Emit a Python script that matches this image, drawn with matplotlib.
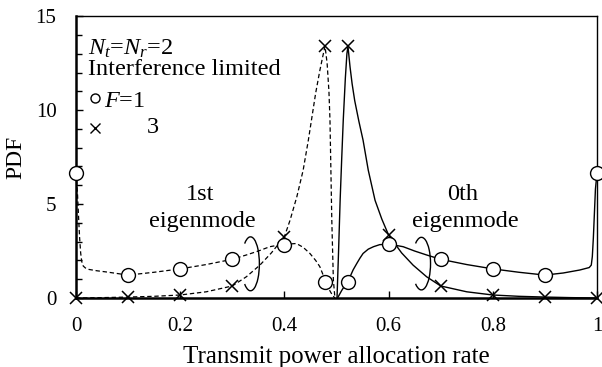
import matplotlib

matplotlib.use("Agg")
import matplotlib.pyplot as plt
from matplotlib.patches import Arc
from matplotlib.ticker import FixedLocator, MultipleLocator

plt.rcParams["font.family"] = ["Liberation Serif", "DejaVu Serif"]
plt.rcParams["mathtext.fontset"] = "custom"
plt.rcParams["mathtext.rm"] = "Liberation Serif"
plt.rcParams["mathtext.it"] = "Liberation Serif:italic"

# 1st eigenmode (dashed), F=1
f1_1st_x = [0, 0.003, 0.005, 0.007, 0.009, 0.011, 0.014, 0.018, 0.025, 0.04, 0.06, 0.08,
            0.1, 0.15, 0.2, 0.25, 0.3, 0.327, 0.35, 0.372, 0.386, 0.4, 0.412, 0.423, 0.436,
            0.449, 0.46, 0.468, 0.474, 0.478, 0.484, 0.489, 0.493, 0.497]
f1_1st_y = [6.65, 5.5, 4.3, 3.2, 2.4, 1.95, 1.7, 1.6, 1.52, 1.45, 1.38, 1.3,
            1.22, 1.37, 1.55, 1.78, 2.06, 2.29, 2.5, 2.73, 2.8, 2.82, 2.88, 2.9, 2.7,
            2.37, 2.0, 1.67, 1.25, 0.87, 0.55, 0.3, 0.12, 0.0]
# 1st eigenmode (dashed), F=3
f3_1st_x = [0, 0.05, 0.1, 0.15, 0.2, 0.25, 0.3, 0.327, 0.353, 0.375, 0.4, 0.411, 0.424,
            0.436, 0.446, 0.452, 0.46, 0.468, 0.474, 0.478, 0.482, 0.4855, 0.4875, 0.491,
            0.494, 0.497]
f3_1st_y = [0, 0.02, 0.05, 0.09, 0.16, 0.33, 0.64, 1.13, 1.75, 2.4, 3.26, 4.15, 5.4,
            6.8, 8.4, 9.47, 10.9, 12.1, 12.9, 13.4, 12.5, 11.0, 9.47, 4.15,
            0.96, 0.0]
# 0th eigenmode (solid), F=1
f1_0th_x = [0.502, 0.506, 0.51, 0.515, 0.52, 0.526, 0.532, 0.539, 0.545, 0.551, 0.561,
            0.571, 0.583, 0.6, 0.614, 0.628, 0.65, 0.673, 0.7, 0.75, 0.8, 0.85, 0.9,
            0.935, 0.967, 0.985, 0.989, 0.991, 0.993, 0.995, 0.997, 1.0]
f1_0th_y = [0.0, 0.2, 0.4, 0.62, 0.87, 1.13, 1.5, 1.84, 2.12, 2.37, 2.6,
            2.73, 2.84, 2.86, 2.8, 2.73, 2.5, 2.29, 2.06, 1.78, 1.55, 1.37, 1.22,
            1.33, 1.49, 1.62, 1.75, 2.2, 3.2, 4.5, 5.8, 6.65]
# 0th eigenmode (solid), F=3
f3_0th_x = [0.501, 0.504, 0.507, 0.510, 0.513, 0.517, 0.52, 0.522, 0.526, 0.53, 0.535,
            0.543, 0.551, 0.561, 0.574, 0.587, 0.6, 0.625, 0.647, 0.673, 0.7, 0.75,
            0.8, 0.85, 0.9, 0.95, 1.0]
f3_0th_y = [0.0, 2.5, 5.2, 7.4, 9.47, 11.7, 13.0, 13.4, 12.3, 11.4, 10.5,
            9.4, 8.4, 6.8, 5.2, 4.2, 3.35, 2.4, 1.75, 1.13, 0.64, 0.33,
            0.16, 0.09, 0.05, 0.02, 0.0]

# marker positions
f1_mark_x = [0, 0.1, 0.2, 0.3, 0.4, 0.478, 0.522, 0.6, 0.7, 0.8, 0.9, 1.0]
f1_mark_y = [6.65, 1.22, 1.55, 2.06, 2.82, 0.87, 0.87, 2.86, 2.06, 1.55, 1.22, 6.65]
f3_mark_x = [0, 0.1, 0.2, 0.3, 0.4, 0.478, 0.522, 0.6, 0.7, 0.8, 0.9, 1.0]
f3_mark_y = [0, 0.05, 0.16, 0.64, 3.26, 13.4, 13.4, 3.35, 0.64, 0.16, 0.05, 0]

x_ticks = [0, 0.2, 0.4, 0.6, 0.8, 1.0]
x_tick_labels = ["0", "0.2", "0.4", "0.6", "0.8", "1"]
y_ticks = [0, 5, 10, 15]

fig = plt.figure(figsize=(6.02, 3.67), dpi=100)
ax = fig.add_axes([0.1262, 0.188, 0.8655, 0.768])

dash = (0, (3.5, 2.2))
ax.plot(f1_1st_x, f1_1st_y, color="black", lw=0.9, ls=dash, clip_on=False)
ax.plot(f3_1st_x, f3_1st_y, color="black", lw=0.9, ls=dash, clip_on=False)
ax.plot(f1_0th_x, f1_0th_y, color="black", lw=1.0, clip_on=False)
ax.plot(f3_0th_x, f3_0th_y, color="black", lw=1.0, clip_on=False)

ax.plot(f3_mark_x, f3_mark_y, ls="none", marker="x", ms=9, mew=1.1, color="black",
        clip_on=False, zorder=4)
ax.plot(f1_mark_x, f1_mark_y, ls="none", marker="o", ms=10, mew=1.0, mfc="white",
        mec="black", clip_on=False, zorder=5)

# loops around the curve pairs, open on the left
# (Arc angles are geometric in data units, so they sit just past +-90 deg here)
ax.add_patch(Arc((0.335, 1.82), 0.034, 2.87, theta1=-90.6, theta2=90.6, color="black", lw=1.0))
ax.add_patch(Arc((0.663, 1.83), 0.035, 2.8, theta1=-90.6, theta2=90.6, color="black", lw=1.0))

ax.text(0.238, 5.21, "1st", ha="center", va="baseline", fontsize=17.5)
ax.text(0.243, 3.79, "eigenmode", ha="center", va="baseline", fontsize=17.5)
ax.text(0.743, 5.21, "0th", ha="center", va="baseline", fontsize=17.5)
ax.text(0.747, 3.79, "eigenmode", ha="center", va="baseline", fontsize=17.5)

# legend block
ax.text(0.023, 12.93, "$N_t$=$N_r$=2", va="baseline", fontsize=17.5)
ax.text(0.023, 11.86, "Interference limited", va="baseline", fontsize=17.5)
ax.plot([0.036], [10.64], marker="o", ms=6.5, mew=1.0, mfc="white", mec="black", ls="none")
ax.text(0.054, 10.16, "$F$=1", va="baseline", fontsize=17.5)
ax.plot([0.036], [9.04], marker="x", ms=6.5, mew=1.0, color="black", ls="none")
ax.text(0.136, 8.78, "3", va="baseline", fontsize=17.5)

ax.set_xlim(0, 1)
ax.set_ylim(0, 15)
ax.xaxis.set_major_locator(FixedLocator(x_ticks))
ax.set_xticklabels(x_tick_labels)
ax.yaxis.set_major_locator(FixedLocator(y_ticks))
ax.yaxis.set_minor_locator(MultipleLocator(1))
ax.tick_params(axis="both", which="major", direction="in", length=5, width=1,
               labelsize=15, pad=14)
ax.tick_params(axis="y", which="minor", direction="in", length=4, width=1)

for side in ("left", "bottom"):
    ax.spines[side].set_linewidth(1.8)
for side in ("top", "right"):
    ax.spines[side].set_linewidth(1.0)

fig.text(0.5595, 0.011, "Transmit power allocation rate", ha="center", va="baseline",
         fontsize=18)
fig.text(0.026, 0.572, "PDF", ha="center", va="center", rotation=90, fontsize=17)

fig.savefig("out.png", dpi=100)
